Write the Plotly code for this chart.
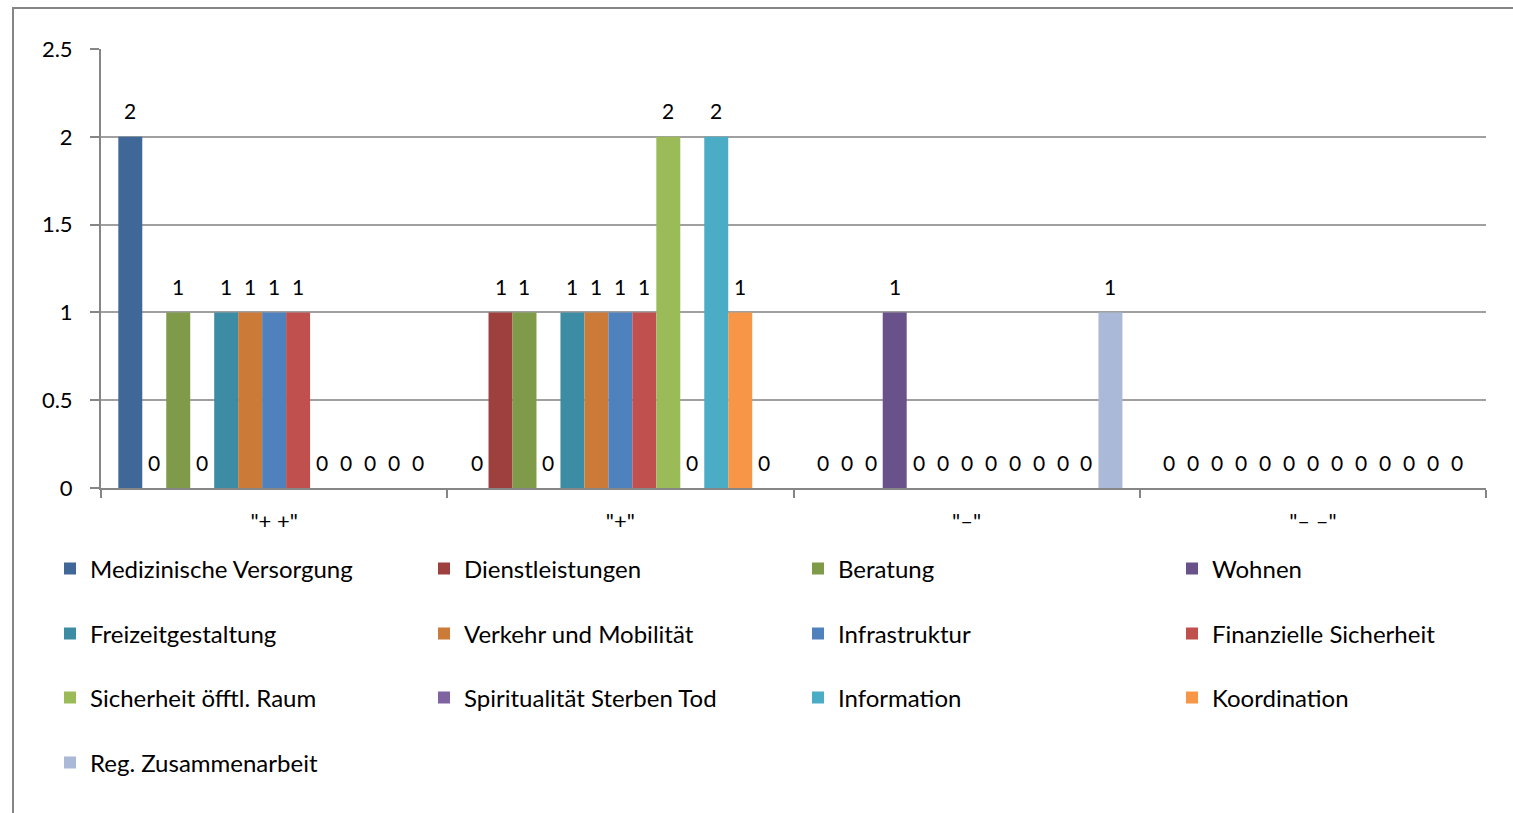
import plotly.graph_objects as go

# Categories on the x axis
categories = ['"+ +"', '"+"', '"–"', '"– –"']

# One list of counts per topic (order follows the categories)
medizinische_versorgung = [2, 0, 0, 0]
dienstleistungen = [0, 1, 0, 0]
beratung = [1, 1, 0, 0]
wohnen = [0, 0, 1, 0]
freizeitgestaltung = [1, 1, 0, 0]
verkehr_mobilitaet = [1, 1, 0, 0]
infrastruktur = [1, 1, 0, 0]
finanzielle_sicherheit = [1, 1, 0, 0]
sicherheit_raum = [0, 2, 0, 0]
spiritualitaet = [0, 0, 0, 0]
information = [0, 2, 0, 0]
koordination = [0, 1, 0, 0]
reg_zusammenarbeit = [0, 0, 1, 0]

series_names = [
    "Medizinische Versorgung", "Dienstleistungen", "Beratung", "Wohnen",
    "Freizeitgestaltung", "Verkehr und Mobilität", "Infrastruktur",
    "Finanzielle Sicherheit", "Sicherheit öfftl. Raum",
    "Spiritualität Sterben Tod", "Information", "Koordination",
    "Reg. Zusammenarbeit",
]
series_values = [
    medizinische_versorgung, dienstleistungen, beratung, wohnen,
    freizeitgestaltung, verkehr_mobilitaet, infrastruktur,
    finanzielle_sicherheit, sicherheit_raum, spiritualitaet,
    information, koordination, reg_zusammenarbeit,
]
series_colors = [
    "#3F6898", "#9E413E", "#7F9A48", "#695189", "#3C8DA3", "#CC7A38",
    "#4F81BD", "#C0504D", "#9BBB59", "#8064A2", "#4BACC6", "#F79646",
    "#AAB9D8",
]

y_ticks = [0, 0.5, 1, 1.5, 2, 2.5]

FONT = "Lato"
TICK_SIZE = 22
CAT_SIZE = 22
LABEL_SIZE = 21
LEGEND_SIZE = 24
BARGAP = 0.1

W, H = 1513, 813
L, R, T, B = 101, 27, 49, 325
pw, ph = W - L - R, H - T - B


def px_x(px):
    return (px - L) / pw


def px_y(py):
    return (H - B - py) / ph


# Legend grid: four columns, rows below the plot
LEG_COLS = 4
leg_col_x = [50, 424, 798, 1172]
leg_row_y = [569, 634, 698, 763]

fig = go.Figure()
n_series = len(series_names)
legend_layouts = {}
for i, (name, vals, col) in enumerate(zip(series_names, series_values, series_colors)):
    leg_id = "legend" if i == 0 else f"legend{i + 1}"
    fig.add_trace(go.Bar(
        x=categories, y=vals, name=name,
        marker=dict(color=col, line=dict(width=0)),
        legend=leg_id,
    ))
    legend_layouts[leg_id] = dict(
        orientation="h", xanchor="left", yanchor="middle",
        x=px_x(leg_col_x[i % LEG_COLS]), y=px_y(leg_row_y[i // LEG_COLS]),
        bgcolor="rgba(0,0,0,0)", borderwidth=0,
        font=dict(family=FONT, size=LEGEND_SIZE, color="#000000"),
    )

# Value labels above each bar, positioned by category index + group slot
slot = (1 - BARGAP) / n_series
annotations = []
for i, vals in enumerate(series_values):
    offset = -(1 - BARGAP) / 2 + slot * (i + 0.5)
    for g, v in enumerate(vals):
        annotations.append(dict(
            x=g + offset, y=v, xref="x", yref="y",
            text=str(v), showarrow=False,
            yanchor="middle", yshift=26,
            font=dict(family=FONT, size=LABEL_SIZE, color="#000000"),
        ))

fig.update_layout(
    width=W, height=H,
    margin=dict(l=L, r=R, t=T, b=B, pad=0),
    paper_bgcolor="white", plot_bgcolor="white",
    barmode="group", bargap=BARGAP, bargroupgap=0,
    font=dict(family=FONT, size=TICK_SIZE, color="#000000"),
    annotations=annotations,
    showlegend=True,
    shapes=[dict(
        type="rect", xref="paper", yref="paper",
        x0=px_x(13), x1=px_x(1540), y0=px_y(840), y1=px_y(8),
        line=dict(color="#868686", width=2), fillcolor="rgba(0,0,0,0)",
        layer="below",
    )],
    **legend_layouts,
)

fig.update_xaxes(
    type="category", showgrid=False, zeroline=False,
    showline=True, linecolor="#868686", linewidth=2,
    ticks="outside", ticklen=8, tickcolor="#868686", tickwidth=2,
    tickson="boundaries", ticklabelstandoff=13,
    tickfont=dict(family=FONT, size=CAT_SIZE, color="#000000"),
)
fig.update_yaxes(
    range=[0, 2.5], tickvals=y_ticks, zeroline=False,
    showgrid=True, gridcolor="#A0A0A0", gridwidth=2,
    showline=True, linecolor="#868686", linewidth=2,
    ticks="outside", ticklen=9, tickcolor="#868686", tickwidth=2,
    ticklabelstandoff=13,
    tickfont=dict(family=FONT, size=TICK_SIZE, color="#000000"),
)

fig.write_html("out.html")
